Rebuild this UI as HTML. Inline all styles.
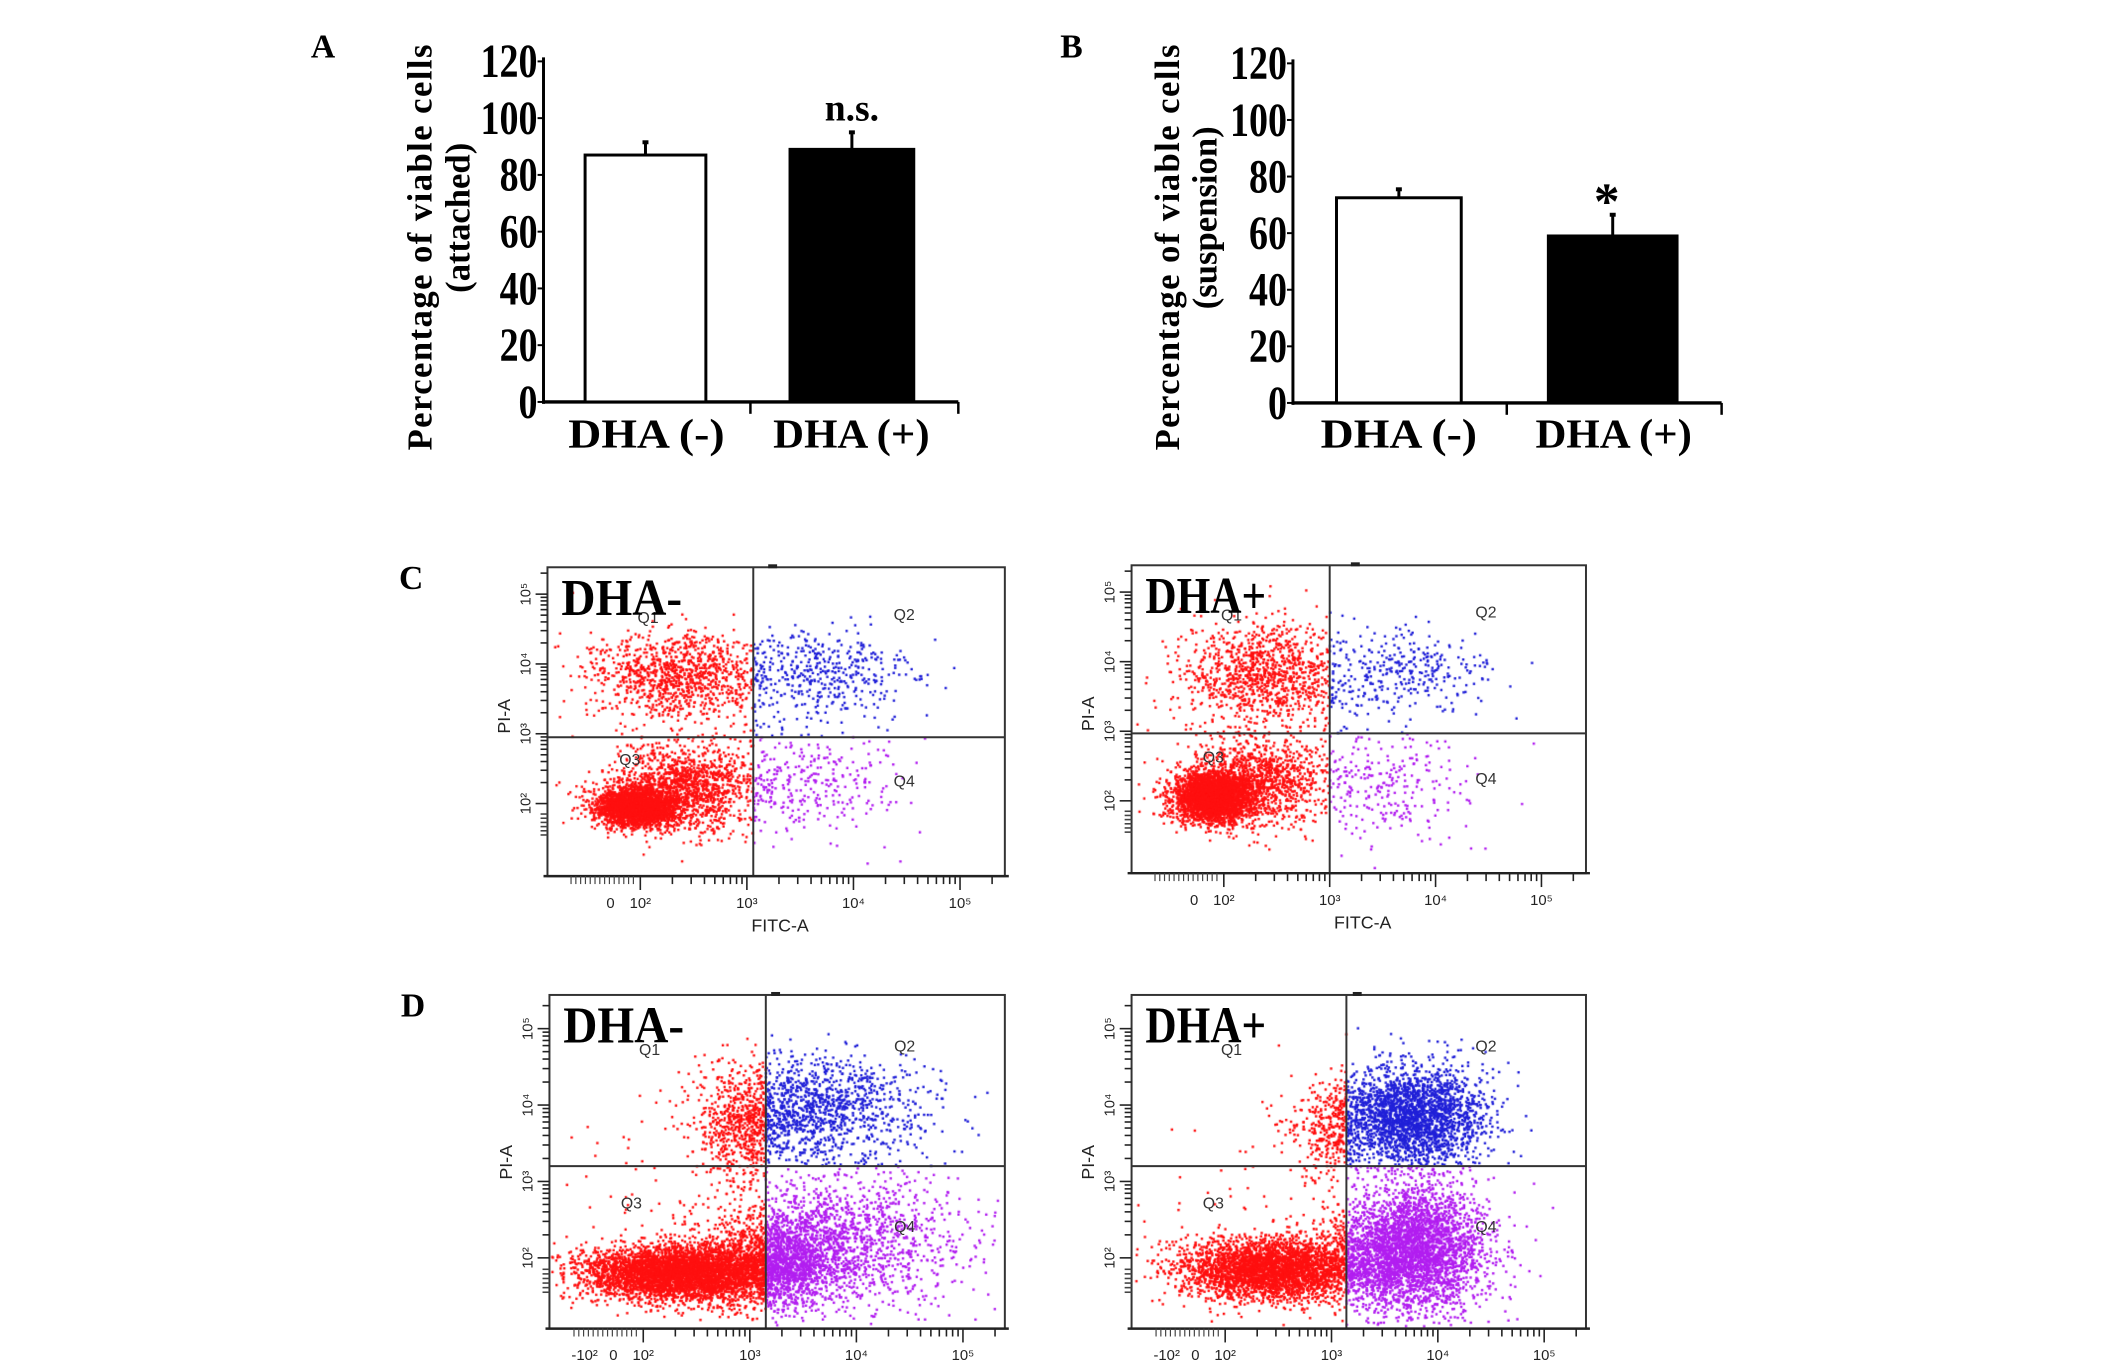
<!DOCTYPE html>
<html><head><meta charset="utf-8">
<style>
html,body{margin:0;padding:0;background:#fff;}
#root{position:relative;width:2126px;height:1366px;overflow:hidden;background:#fff;}
#inner{position:absolute;left:0;top:0;width:2126px;height:1400px;transform:scale(0.99);transform-origin:0 0;}
svg{position:absolute;left:0;top:0;}
canvas{position:absolute;}
.serif{font-family:"Liberation Serif",serif;font-weight:bold;}
.sans{font-family:"Liberation Sans",sans-serif;}
</style></head>
<body>
<div id="root">
<div id="inner">
<canvas id="cv-c-left"></canvas>
<canvas id="cv-c-right"></canvas>
<canvas id="cv-d-left"></canvas>
<canvas id="cv-d-right"></canvas>
<svg id="svg" width="2126" height="1400" xmlns="http://www.w3.org/2000/svg"></svg>
</div>
</div>
<script>
// ---------- Bar chart data ----------
const barCategories = ["DHA (-)", "DHA (+)"];
const attachedValues = [87, 89];
const attachedErrors = [4.5, 6];
const suspensionValues = [72.5, 59];
const suspensionErrors = [3, 7.5];
const yTicks = [0, 20, 40, 60, 80, 100, 120];
const attachedAnnot = ["", "n.s."];
const suspensionAnnot = ["", "*"];

// ---------- Flow cytometry cluster data (log-decade units: x=FITC, y=PI, sdx, sdy, count) ----------
const cLeftClusters = [[1.95,1.95,0.18,0.13,2500],[2.4,2.2,0.35,0.3,1500],[2.35,3.85,0.4,0.3,1000],[3.7,3.85,0.45,0.3,450],[3.55,2.3,0.4,0.4,300],[2.5,3.0,0.9,0.9,80]];
const cRightClusters = [[1.9,2.05,0.18,0.17,3000],[2.3,2.25,0.33,0.32,1200],[2.4,3.8,0.4,0.38,1100],[3.75,3.85,0.4,0.3,280],[3.5,2.2,0.4,0.4,250],[2.5,3.0,0.9,0.9,80]];
const dLeftClusters = [[2.35,1.8,0.45,0.18,4500],[3.3,1.95,0.3,0.3,1500],[3.8,2.2,0.6,0.45,1500],[3.6,3.95,0.5,0.35,1300],[2.95,3.7,0.2,0.35,500],[2.5,2.8,0.9,0.8,100]];
const dRightClusters = [[2.45,1.85,0.45,0.2,3500],[3.75,2.1,0.35,0.4,3500],[3.75,3.85,0.35,0.33,2500],[3.0,3.7,0.2,0.3,300],[2.8,2.8,0.9,0.8,100]];
const gateX = [3.06, 3.0, 3.15, 3.14];
const gateY = [2.95, 2.97, 3.2, 3.2];
const xTickLabelsC = ["0","10²","10³","10⁴","10⁵"];
const xTickUnitsC = [1.72, 2, 3, 4, 5];
const xTickLabelsD = ["-10²","0","10²","10³","10⁴","10⁵"];
const xTickUnitsD = [1.45, 1.72, 2, 3, 4, 5];
const yTickLabels = ["10²","10³","10⁴","10⁵"];
const yTickUnits = [2, 3, 4, 5];

const NS="http://www.w3.org/2000/svg";
const svg=document.getElementById('svg');
function el(tag,attrs,parent,text){const e=document.createElementNS(NS,tag);for(const k in attrs)e.setAttribute(k,attrs[k]);if(text!==undefined)e.textContent=text;(parent||svg).appendChild(e);return e;}

// ---------- Bar panels ----------
function barPanel(o){
  const g=el('g',{});
  
  
  const y=v=>o.y0-v*(o.y0-o.y120)/120;
  const lt=el('text',{x:o.letterX,y:58,'font-size':34,class:'serif'},g,o.letter);
  
  
  const ya=el('line',{x1:o.ax,y1:o.y120-4,x2:o.ax,y2:o.y0+2,stroke:'#000','stroke-width':3},g);
  
  
  yTicks.forEach(t=>{
    el('line',{x1:o.ax-6,y1:y(t),x2:o.ax,y2:y(t),stroke:'#000','stroke-width':2},g);
    const tx=el('text',{x:0,y:0,'font-size':48,class:'serif','text-anchor':'end',transform:`translate(${o.ax-6},${y(t)+16}) scale(0.8,1)`},g,String(t));
    
    
  });
  const xa=el('line',{x1:o.ax,y1:o.y0,x2:o.xEnd,y2:o.y0,stroke:'#000','stroke-width':3.5},g);
  
  
  [o.midTick,o.xEnd].forEach(x=>el('line',{x1:x,y1:o.y0,x2:x,y2:o.y0+12,stroke:'#000','stroke-width':2.5},g));
  const tt=el('text',{x:0,y:0,'font-size':35,class:'serif','text-anchor':'middle',transform:`translate(${o.titleX},${o.titleY}) rotate(-90)`,textLength:410,lengthAdjust:'spacing'},g,'Percentage of viable cells');
  
  
  const t2=el('text',{x:0,y:0,'font-size':35,class:'serif','text-anchor':'middle',transform:`translate(${o.titleX+38},${o.titleY-30}) rotate(-90)`},g,o.sub);
  
  
  barCategories.forEach((c,i)=>{
    const [x1,x2]=o.bars[i];
    const v=o.values[i], e=o.errors[i];
    const b=el('rect',{x:x1,y:y(v),width:x2-x1,height:o.y0-y(v),fill:i?'#000':'#fff',stroke:'#000','stroke-width':3},g);
    
    
    const cx=(x1+x2)/2;
    const er=el('line',{x1:cx,y1:y(v),x2:cx,y2:y(v+e),stroke:'#000','stroke-width':3},g);
    
    
    el('line',{x1:cx-3,y1:y(v+e),x2:cx+3,y2:y(v+e),stroke:'#000','stroke-width':4},g);
    if(o.annot[i]){
      const star=o.annot[i]==='*';
      const an=el('text',{x:cx-(star?6:0),y:y(v+e)-(star?-4:12),'font-size':star?52:38,class:'serif','text-anchor':'middle'},g,o.annot[i]);
      
      
    }
    const xl=el('text',{x:o.labelX[i],y:452,'font-size':42,class:'serif','text-anchor':'middle',textLength:158,lengthAdjust:'spacingAndGlyphs'},g,c);
    
    
  });
}
barPanel({name:'panel-a-attached',letter:'A',letterX:314,ax:549,y0:406,y120:62,xEnd:968,midTick:758,titleX:436,titleY:250,sub:'(attached)',
  bars:[[591,713],[798,923]],values:attachedValues,errors:attachedErrors,annot:attachedAnnot,labelX:[653,860]});
barPanel({name:'panel-b-suspension',letter:'B',letterX:1071,ax:1306,y0:407,y120:64,xEnd:1739,midTick:1522,titleX:1191,titleY:250,sub:'(suspension)',
  bars:[[1350,1476],[1564,1694]],values:suspensionValues,errors:suspensionErrors,annot:suspensionAnnot,labelX:[1413,1630]});

// ---------- Flow panels ----------
function rng(seed){return function(){seed|=0;seed=seed+0x6D2B79F5|0;let t=Math.imul(seed^seed>>>15,1|seed);t=t+Math.imul(t^t>>>7,61|t)^t;return((t^t>>>14)>>>0)/4294967296;};}
function flowPanel(o){
  const W=o.R-o.L, H=o.B-o.T;
  const fx=u=>o.L+W*(o.x2f+(u-2)*o.dxf);
  const fy=u=>o.T+H*(o.y2f-(u-2)*o.dyf);
  const cv=document.getElementById(o.canvas);
  cv.width=W;cv.height=H;cv.style.left=o.L+'px';cv.style.top=o.T+'px';
  const ctx=cv.getContext('2d');
  const r=rng(o.seed);
  const gauss=()=>{let u=0,v=0;while(u===0)u=r();v=r();return Math.sqrt(-2*Math.log(u))*Math.cos(2*Math.PI*v);};
  o.clusters.forEach(c=>{
    for(let i=0;i<c[4];i++){
      const ux=c[0]+gauss()*c[2], uy=c[1]+gauss()*c[3];
      const px=fx(ux)-o.L, py=fy(uy)-o.T;
      if(px<2||px>W-2||py<2||py>H-2)continue;
      let col='#ff1010';
      if(ux>=o.gx) col = uy>=o.gy ? '#2020d8' : '#b21ef0';
      ctx.fillStyle=col;
      ctx.fillRect(px-1.2,py-1.2,2.4,2.4);
    }
  });
  const g=el('g',{});
  
  
  const fr=el('rect',{x:o.L,y:o.T,width:W,height:H,fill:'none',stroke:'#333','stroke-width':2},g);
  
  
  const vg=el('line',{x1:fx(o.gx),y1:o.T,x2:fx(o.gx),y2:o.B,stroke:'#333','stroke-width':2},g);
  
  
  const hg=el('line',{x1:o.L,y1:fy(o.gy),x2:o.R,y2:fy(o.gy),stroke:'#333','stroke-width':2},g);
  
  
  el('rect',{x:fx(3.2),y:o.T-3,width:9,height:4,fill:'#222'},g);
  el('line',{x1:o.L-4,y1:o.B,x2:o.R+4,y2:o.B,stroke:'#222','stroke-width':2.5},g);
  for(let d=2;d<=5;d++){for(let k=1;k<10;k++){const u=d+Math.log10(k);const x=fx(u);if(x>o.R)continue;
    el('line',{x1:x,y1:o.B,x2:x,y2:o.B+(k===1?14:8),stroke:'#222','stroke-width':1.6},g);}}
  for(let i=0;i<14;i++){const x=fx(1.35+i*0.045);el('line',{x1:x,y1:o.B,x2:x,y2:o.B+8,stroke:'#444','stroke-width':1.2},g);}
  for(let d=2;d<=5;d++){for(let k=1;k<10;k++){const u=d+Math.log10(k);const y=fy(u);if(y<o.T)continue;
    el('line',{x1:o.L,y1:y,x2:o.L-(k===1?12:7),y2:y,stroke:'#222','stroke-width':1.6},g);}}
  for(let i=0;i<6;i++){const y=fy(1.55+i*0.06);el('line',{x1:o.L,y1:y,x2:o.L-7,y2:y,stroke:'#444','stroke-width':1.6},g);}
  o.xl.forEach((t,i)=>{const tx=el('text',{x:fx(o.xu[i]),y:o.B+32,'font-size':15,class:'sans','text-anchor':'middle',fill:'#222'},g,t);
    
    });
  yTickLabels.forEach((t,i)=>{const tx=el('text',{x:0,y:0,'font-size':15,class:'sans','text-anchor':'middle',fill:'#222',transform:`translate(${o.L-17},${fy(yTickUnits[i])}) rotate(-90)`},g,t);
    
    });
  const xt=el('text',{x:(o.L+o.R)/2+4,y:o.B+56,'font-size':18,class:'sans','text-anchor':'middle',fill:'#222'},g,'FITC-A');
  
  
  const yt=el('text',{x:0,y:0,'font-size':18,class:'sans','text-anchor':'middle',fill:'#222',transform:`translate(${o.L-38},${fy(3.25)}) rotate(-90)`},g,'PI-A');
  
  
  [['Q1',0.22,0.18],['Q2',0.78,0.17],['Q3',0.18,0.64],['Q4',0.78,0.71]].forEach(q=>{
    const qt=el('text',{x:o.L+W*q[1],y:o.T+H*q[2],'font-size':16,class:'sans',fill:'#333','text-anchor':'middle'},g,q[0]);
    
    });
  const dt=el('text',{x:o.L+14,y:o.T+48,'font-size':52,class:'serif',fill:'#000',textLength:122,lengthAdjust:'spacingAndGlyphs'},g,o.title);
  
  
  if(o.letter){const lt=el('text',{x:o.L-150,y:o.T+22,'font-size':34,class:'serif'},g,o.letter);
    
    }
}
const cScale={x2f:0.203,dxf:0.233,y2f:0.765,dyf:0.226};
const dScale={x2f:0.206,dxf:0.234,y2f:0.788,dyf:0.229};
flowPanel(Object.assign({name:'panel-c-dha-minus',canvas:'cv-c-left',L:553,R:1015,T:573,B:885,gx:gateX[0],gy:gateY[0],clusters:cLeftClusters,seed:11,title:'DHA-',letter:'C',xl:xTickLabelsC,xu:xTickUnitsC},cScale));
flowPanel(Object.assign({name:'panel-c-dha-plus',canvas:'cv-c-right',L:1143,R:1602,T:571,B:882,gx:gateX[1],gy:gateY[1],clusters:cRightClusters,seed:22,title:'DHA+',xl:xTickLabelsC,xu:xTickUnitsC},cScale));
flowPanel(Object.assign({name:'panel-d-dha-minus',canvas:'cv-d-left',L:555,R:1015,T:1005,B:1342,gx:gateX[2],gy:gateY[2],clusters:dLeftClusters,seed:33,title:'DHA-',letter:'D',xl:xTickLabelsD,xu:xTickUnitsD},dScale));
flowPanel(Object.assign({name:'panel-d-dha-plus',canvas:'cv-d-right',L:1143,R:1602,T:1005,B:1342,gx:gateX[3],gy:gateY[3],clusters:dRightClusters,seed:44,title:'DHA+',xl:xTickLabelsD,xu:xTickUnitsD},dScale));
</script>
</body></html>
